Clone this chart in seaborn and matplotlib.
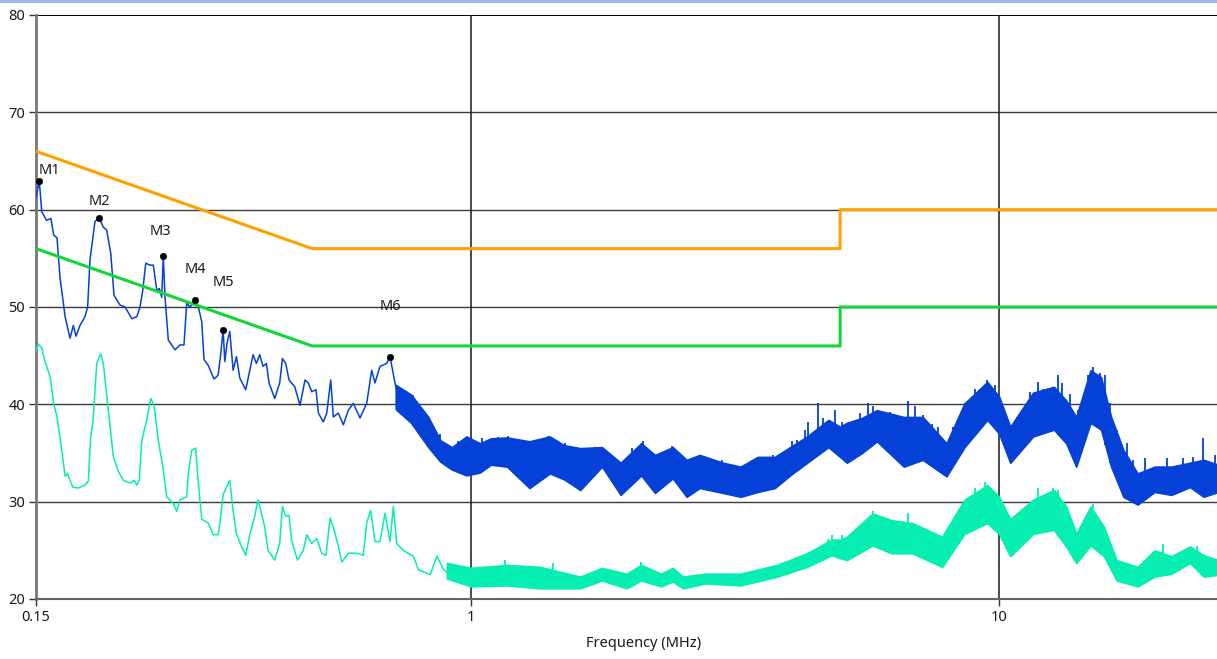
import numpy as np
import matplotlib
matplotlib.use("Agg")
import matplotlib.pyplot as plt
import seaborn as sns

# ---- chart data ----
# limit lines (QP in orange, AV in green)
limit_freq = [0.15, 0.5, 5.0, 5.0, 30.0]
qp_limit = [66, 56, 56, 60, 60]
av_limit = [56, 46, 46, 50, 50]

# peak trace, low frequency part (single thin line)
peak_freq = [0.1500, 0.1522, 0.1538, 0.1571, 0.1601, 0.1620, 0.1644, 0.1665, 0.1703, 0.1740,
             0.1765, 0.1786, 0.1817, 0.1857, 0.1879, 0.1898, 0.1940, 0.1977, 0.2012, 0.2042,
             0.2078, 0.2108, 0.2164, 0.2212, 0.2278, 0.2328, 0.2361, 0.2389, 0.2421, 0.2466,
             0.2502, 0.2540, 0.2568, 0.2595, 0.2613, 0.2633, 0.2671, 0.2750, 0.2810, 0.2860,
             0.2894, 0.2936, 0.3001, 0.3045, 0.3090, 0.3121, 0.3179, 0.3260, 0.3319, 0.3354,
             0.3392, 0.3417, 0.3451, 0.3492, 0.3543, 0.3595, 0.3648, 0.3744, 0.3865, 0.3922,
             0.3979, 0.4037, 0.4097, 0.4144, 0.4248, 0.4341, 0.4393, 0.4457, 0.4522, 0.4636,
             0.4743, 0.4848, 0.4918, 0.4992, 0.5086, 0.5139, 0.5251, 0.5330, 0.5423, 0.5486,
             0.5606, 0.5730, 0.5857, 0.5985, 0.6162, 0.6344, 0.6484, 0.6578, 0.6722, 0.6922,
             0.7023, 0.7178, 0.7337]
peak_level = [61.3, 62.9, 59.8, 58.9, 59.1, 57.4, 57.1, 53.1, 49.0, 46.8,
              48.1, 47.0, 48.1, 49.0, 50.0, 54.8, 58.8, 59.1, 58.2, 57.9,
              55.5, 51.2, 50.2, 50.0, 48.8, 49.0, 50.0, 51.7, 54.5, 54.3,
              54.3, 51.7, 51.9, 51.0, 55.2, 51.0, 46.6, 45.6, 46.1, 46.1,
              50.4, 50.0, 50.7, 50.0, 48.5, 44.6, 44.0, 42.6, 43.0, 45.0,
              47.6, 44.4, 46.3, 47.5, 43.5, 44.9, 42.7, 41.5, 45.1, 44.2,
              45.1, 43.9, 44.2, 42.2, 40.6, 42.2, 44.7, 44.2, 42.5, 41.8,
              39.9, 42.5, 42.2, 41.3, 41.5, 39.1, 38.2, 39.1, 42.5, 38.7,
              39.1, 37.9, 39.4, 40.1, 38.6, 40.1, 43.5, 42.2, 43.9, 44.2,
              44.9, 42.2, 39.8]

# peak trace above ~0.7 MHz: dense noise drawn as a band (floor / top)
peak_band_freq = [0.72, 0.77, 0.83, 0.875, 0.92, 0.98, 1.04, 1.09, 1.17, 1.29,
                  1.41, 1.50, 1.61, 1.77, 1.92, 2.10, 2.23, 2.41, 2.56, 2.71,
                  3.00, 3.24, 3.49, 3.76, 4.02, 4.33, 4.75, 5.00, 5.15, 5.50,
                  5.87, 6.60, 7.17, 7.95, 8.60, 9.50, 10.0, 10.5, 11.6, 12.7,
                  13.4, 14.0, 14.9, 15.6, 16.3, 17.2, 18.3, 19.7, 21.2, 23.0,
                  24.4, 26.0]
peak_band_low = [39.5, 38.1, 35.6, 34.1, 33.3, 32.7, 33.0, 33.8, 33.6, 31.4,
                 32.9, 32.3, 31.2, 33.6, 30.7, 32.7, 30.9, 32.4, 30.5, 31.4,
                 30.9, 30.5, 31.0, 31.4, 32.7, 34.0, 35.6, 34.6, 34.0, 35.0,
                 36.2, 33.6, 34.3, 32.6, 35.6, 38.4, 37.0, 34.0, 36.7, 37.4,
                 36.0, 33.6, 38.1, 37.4, 33.6, 30.5, 29.7, 31.0, 30.7, 31.5,
                 30.5, 31.0]
peak_band_high = [42.0, 41.0, 38.7, 36.3, 35.6, 36.7, 36.0, 36.5, 36.6, 36.2,
                  36.7, 35.8, 35.5, 35.6, 34.0, 36.0, 34.8, 35.6, 34.3, 34.8,
                  34.0, 33.6, 34.6, 34.6, 35.6, 36.7, 38.4, 37.7, 38.1, 38.6,
                  39.4, 38.7, 38.7, 36.0, 40.1, 42.3, 40.8, 37.7, 41.2, 41.8,
                  40.4, 38.7, 43.5, 42.8, 38.7, 35.3, 32.9, 33.6, 33.6, 34.0,
                  34.3, 33.8]
# single spikes sticking out of the peak band
peak_spike_freq = [0.778, 0.795, 0.813, 0.857, 0.874, 0.887, 0.899, 0.918, 0.946, 0.974,
                   0.999, 1.022, 1.048, 1.071, 1.099, 1.126, 1.176, 1.202, 1.229, 1.284,
                   1.331, 1.401, 1.442, 1.507, 1.574, 1.620, 1.717, 1.819, 2.016, 2.120,
                   2.199, 2.347, 2.400, 2.562, 2.676, 2.795, 2.984, 3.117, 3.426, 3.738,
                   3.962, 4.048, 4.138, 4.229, 4.290, 4.353, 4.546, 4.647, 4.681, 4.891,
                   5.036, 5.259, 5.454, 5.655, 5.780, 6.037, 6.216, 6.354, 6.732, 6.932,
                   7.188, 7.455, 7.674, 8.192, 8.685, 9.006, 9.205, 9.479, 9.828, 10.12,
                   10.49, 10.80, 11.28, 11.45, 11.87, 12.13, 12.49, 12.95, 13.14, 13.63,
                   14.13, 14.76, 15.09, 15.54, 15.88, 16.23, 16.71, 17.45, 17.96, 18.90,
                   19.47, 20.78, 22.33, 23.34, 24.38, 25.65]
peak_spike_top = [41.0, 39.1, 38.7, 37.0, 37.0, 36.0, 35.5, 35.1, 36.2, 35.0,
                  36.6, 36.2, 36.5, 36.0, 36.5, 36.6, 36.7, 36.0, 35.6, 34.6,
                  36.3, 36.7, 35.6, 36.0, 34.8, 35.5, 35.6, 35.0, 35.5, 36.2,
                  34.6, 34.8, 35.7, 34.3, 34.5, 34.5, 34.3, 33.6, 33.9, 34.8,
                  35.3, 36.2, 36.3, 36.3, 37.4, 38.2, 40.1, 38.6, 37.4, 39.4,
                  38.2, 38.2, 39.1, 40.1, 39.8, 39.2, 39.2, 38.9, 40.3, 39.8,
                  38.9, 38.0, 37.7, 37.7, 39.2, 41.6, 41.6, 42.5, 42.0, 40.1,
                  36.7, 38.7, 39.4, 41.3, 42.3, 41.6, 41.6, 43.0, 42.2, 41.1,
                  39.4, 43.0, 43.8, 43.2, 43.0, 40.1, 37.4, 36.0, 34.3, 34.5,
                  33.1, 34.5, 34.5, 34.6, 36.5, 34.8]

# average trace, low frequency part
avg_freq = [0.1500, 0.1515, 0.1538, 0.1560, 0.1596, 0.1620, 0.1644, 0.1678, 0.1703, 0.1720,
            0.1761, 0.1804, 0.1857, 0.1884, 0.1904, 0.1921, 0.1955, 0.1989, 0.2012, 0.2056,
            0.2102, 0.2148, 0.2195, 0.2261, 0.2301, 0.2328, 0.2354, 0.2379, 0.2431, 0.2474,
            0.2510, 0.2557, 0.2613, 0.2652, 0.2730, 0.2770, 0.2810, 0.2894, 0.2914, 0.2958,
            0.3010, 0.3045, 0.3090, 0.3179, 0.3250, 0.3319, 0.3354, 0.3392, 0.3443, 0.3492,
            0.3543, 0.3595, 0.3675, 0.3744, 0.3810, 0.3893, 0.3950, 0.4009, 0.4067, 0.4126,
            0.4248, 0.4341, 0.4393, 0.4457, 0.4522, 0.4570, 0.4690, 0.4813, 0.4884, 0.4992,
            0.5102, 0.5215, 0.5313, 0.5407, 0.5486, 0.5606, 0.5691, 0.5857, 0.6074, 0.6251,
            0.6344, 0.6456, 0.6578, 0.6722, 0.6871, 0.7023, 0.7125, 0.7231, 0.7443, 0.7776,
            0.7948, 0.8370, 0.8618, 0.8873, 0.9136]
avg_level = [45.4, 46.2, 45.8, 44.4, 42.8, 40.1, 38.7, 35.3, 32.6, 32.9,
             31.5, 31.4, 31.7, 32.1, 36.7, 38.0, 44.2, 45.2, 44.2, 39.4,
             34.6, 33.1, 32.2, 31.9, 32.2, 31.7, 32.2, 36.3, 38.4, 40.6,
             39.9, 36.3, 33.3, 30.5, 29.8, 29.0, 30.2, 30.5, 32.9, 35.3,
             35.5, 31.9, 28.2, 27.8, 26.6, 26.6, 28.3, 30.7, 31.5, 32.2,
             29.1, 26.7, 25.4, 24.5, 26.6, 28.5, 30.2, 28.8, 27.4, 25.0,
             24.0, 25.7, 29.5, 28.5, 28.6, 26.1, 24.0, 25.0, 26.6, 25.7,
             26.2, 24.7, 24.5, 28.3, 27.4, 25.4, 23.8, 24.7, 24.7, 24.5,
             27.8, 29.1, 25.9, 25.9, 28.8, 25.9, 29.5, 25.7, 25.0, 24.4,
             23.0, 22.5, 24.4, 23.0, 22.5]

# average trace above ~0.9 MHz, drawn as a band
avg_band_freq = [0.90, 1.00, 1.17, 1.35, 1.61, 1.77, 1.97, 2.10, 2.29, 2.41,
                 2.52, 2.78, 3.24, 3.80, 4.33, 4.82, 5.00, 5.15, 5.76, 6.25,
                 6.85, 7.80, 8.60, 9.50, 10.0, 10.5, 11.6, 12.7, 13.4, 14.0,
                 14.9, 15.8, 16.7, 18.3, 19.7, 21.2, 23.0, 24.4, 26.0]
avg_band_low = [22.1, 21.3, 21.4, 21.1, 21.1, 21.9, 21.1, 21.9, 21.3, 21.8,
                21.1, 21.6, 21.4, 22.3, 23.3, 24.5, 24.2, 24.0, 25.5, 24.7,
                24.7, 23.3, 26.7, 27.8, 26.7, 24.4, 26.7, 27.1, 25.4, 23.7,
                25.5, 24.4, 21.9, 21.3, 22.3, 22.6, 23.7, 22.3, 22.5]
avg_band_high = [23.7, 23.2, 23.5, 23.3, 22.3, 23.2, 22.6, 23.5, 22.6, 23.2,
                 22.3, 22.6, 22.6, 23.5, 24.7, 26.1, 26.1, 26.4, 28.8, 28.1,
                 27.8, 26.4, 30.2, 31.7, 30.5, 28.2, 30.2, 31.2, 29.5, 26.7,
                 29.5, 27.4, 24.0, 23.3, 25.0, 24.4, 25.4, 24.5, 24.0]
# single spikes sticking out of the average band
avg_spike_freq = [1.16, 1.431, 2.10, 4.75, 4.82, 5.04, 5.78, 6.73, 8.62, 9.01,
                  9.41, 9.76, 11.87, 12.67, 12.95, 15.09, 20.48, 23.68]
avg_spike_top = [24.0, 23.7, 23.8, 26.2, 26.6, 26.6, 29.0, 28.8, 29.8, 31.4,
                 32.0, 30.9, 31.4, 31.4, 31.2, 29.8, 25.7, 25.4]

# marker points
marker_names = ["M1", "M2", "M3", "M4", "M5", "M6"]
marker_freq = [0.1522, 0.1977, 0.2613, 0.3001, 0.3392, 0.7023]
marker_level = [62.9, 59.1, 55.2, 50.7, 47.6, 44.9]

x_ticks = [0.15, 1, 10]
x_tick_labels = ["0.15", "1", "10"]
y_ticks = [20, 30, 40, 50, 60, 70, 80]

# ---- colours ----
PEAK_BLUE = "#0541d6"
AVG_GREEN = "#06eeb2"
QP_ORANGE = "#ffa000"
AV_GREEN = "#12d63a"

sns.set_style("white")
plt.rcParams["font.family"] = ["Noto Sans", "DejaVu Sans"]

fig = plt.figure(figsize=(12.17, 6.59), dpi=100)
# the plot frame runs to 30 MHz, a bit past the right edge of the picture
ax = fig.add_axes([36 / 1217, 1 - 599 / 659, (1251 - 36) / 1217, (599 - 15) / 659])
ax.set_xscale("log")
ax.set_xlim(0.15, 30)
ax.set_ylim(20, 80)

# grid: horizontal every 10 dB, vertical at the decades
for y in y_ticks[1:-1]:
    ax.axhline(y, color="#3a3a3a", lw=1.0, zorder=1)
ax.axhline(80, color="black", lw=1.4, zorder=1)
for x in [1, 10]:
    ax.axvline(x, color="#1a1a1a", lw=1.1, zorder=1)


def draw_band(freq, low, high, spike_freq, spike_top, color):
    # noisy part of a trace: filled floor-to-top band plus the single spikes
    ax.fill_between(freq, low, high, color=color, lw=1.2, edgecolor=color, zorder=3)
    base = np.interp(np.log10(spike_freq), np.log10(freq), low)
    ax.vlines(spike_freq, base, spike_top, color=color, lw=1.3, zorder=3)


# average trace
sns.lineplot(x=avg_freq, y=avg_level, ax=ax, color=AVG_GREEN, lw=1.1,
             estimator=None, sort=False, zorder=3)
draw_band(avg_band_freq, avg_band_low, avg_band_high, avg_spike_freq, avg_spike_top, AVG_GREEN)

# peak trace
sns.lineplot(x=peak_freq, y=peak_level, ax=ax, color=PEAK_BLUE, lw=1.1,
             estimator=None, sort=False, zorder=4)
draw_band(peak_band_freq, peak_band_low, peak_band_high, peak_spike_freq, peak_spike_top, PEAK_BLUE)

# limit lines
sns.lineplot(x=limit_freq, y=qp_limit, ax=ax, color=QP_ORANGE, lw=2.2,
             estimator=None, sort=False, zorder=5)
sns.lineplot(x=limit_freq, y=av_limit, ax=ax, color=AV_GREEN, lw=2.2,
             estimator=None, sort=False, zorder=5)

# markers with their labels
sns.scatterplot(x=marker_freq, y=marker_level, ax=ax, color="black", s=22,
                edgecolor="black", zorder=6)
label_offsets = [(10, 11), (0, 17), (-3, 25), (0, 31), (0, 48), (0, 50)]
for name, f, lv, off in zip(marker_names, marker_freq, marker_level, label_offsets):
    ax.annotate(name, (f, lv), xytext=off, textcoords="offset pixels",
                ha="center", va="center", fontsize=10.5, color="#1a1a1a", zorder=7)

# axes styling
for side in ["top", "right"]:
    ax.spines[side].set_visible(False)
ax.spines["left"].set_color("#777777")
ax.spines["left"].set_linewidth(2)
ax.spines["bottom"].set_color("#666666")
ax.spines["bottom"].set_linewidth(1.5)

ax.set_xticks(x_ticks)
ax.set_xticklabels(x_tick_labels)
ax.xaxis.set_minor_locator(matplotlib.ticker.NullLocator())
ax.set_yticks(y_ticks)
ax.tick_params(axis="both", direction="out", length=5, width=1, color="#333333",
               labelsize=10.5, labelcolor="#1a1a1a", pad=3, bottom=True, left=True)
ax.set_xlabel("Frequency (MHz)", fontsize=10.5, color="#1a1a1a", labelpad=8)
ax.set_ylabel("")

# thin blue window border along the top of the picture
fig.add_artist(plt.Line2D([0, 1], [0.9985, 0.9985], transform=fig.transFigure,
                          color="#8db6e6", lw=2))

fig.savefig("out.png", dpi=100)
